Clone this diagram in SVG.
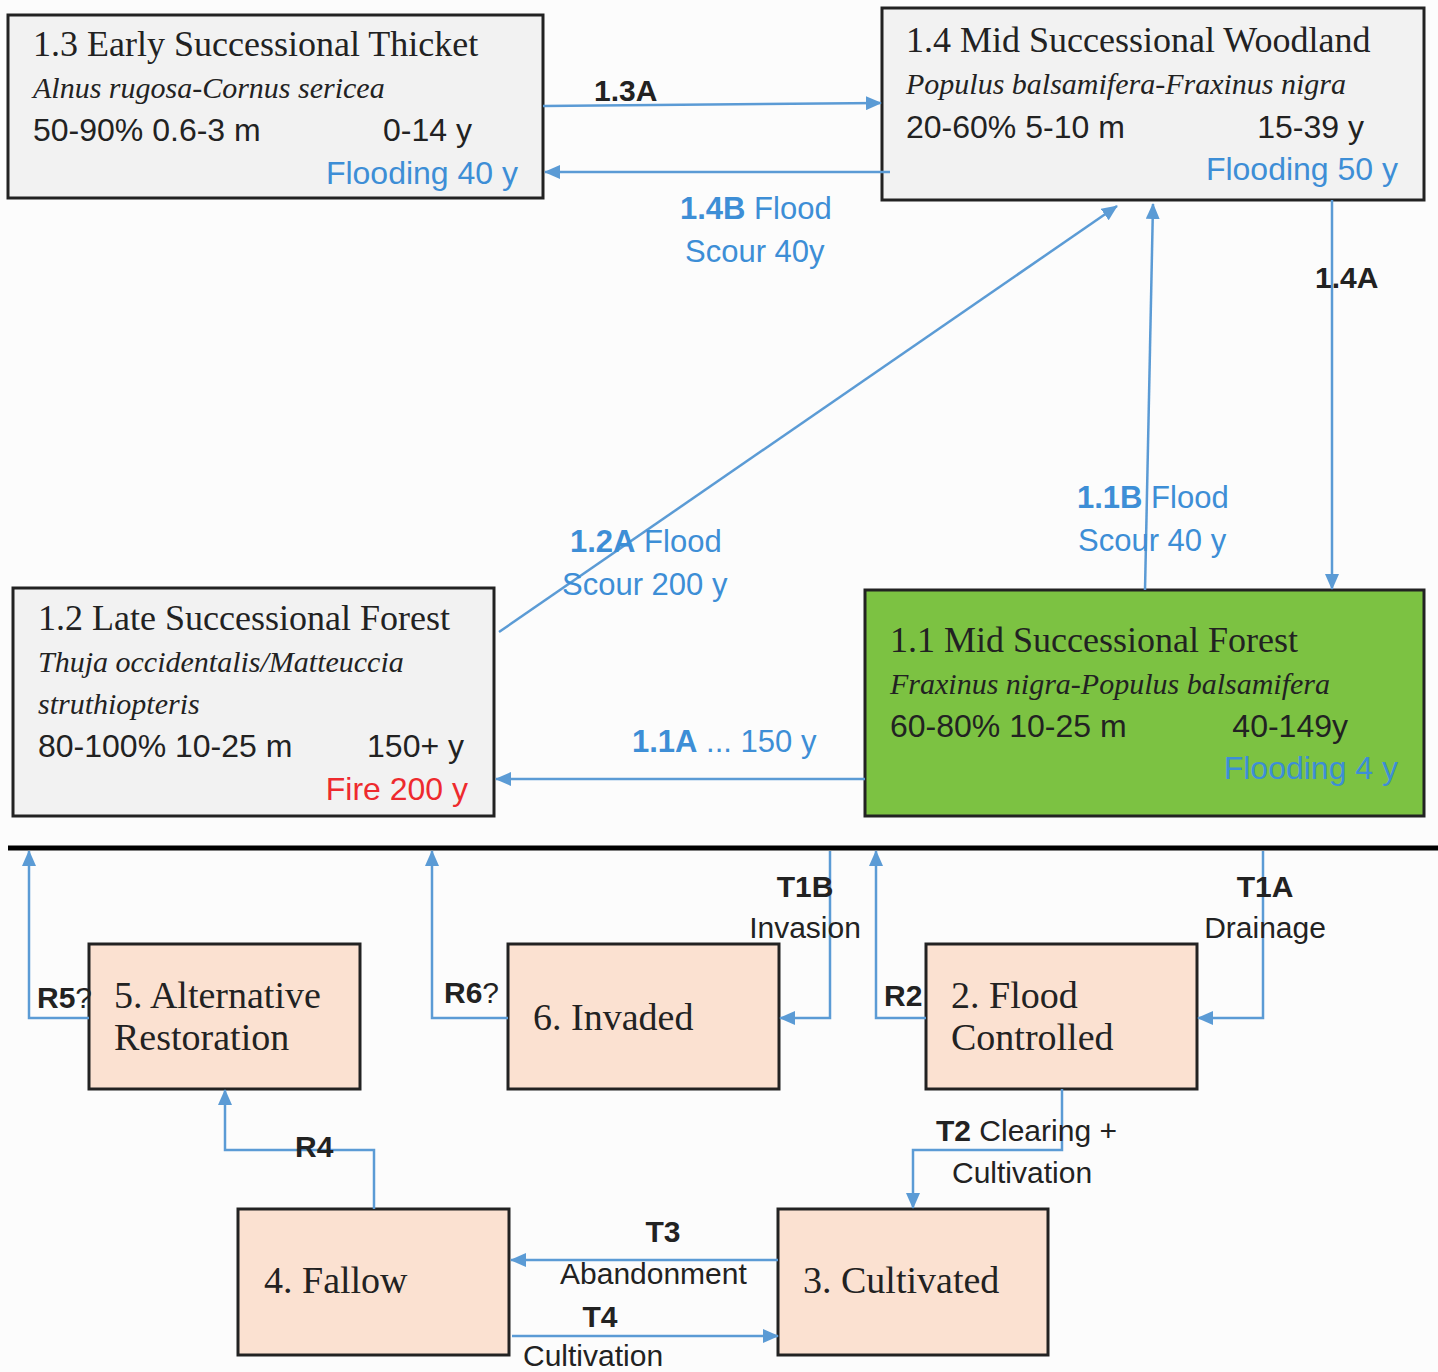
<svg xmlns="http://www.w3.org/2000/svg" width="1438" height="1372" viewBox="0 0 1438 1372">
<defs>
<marker id="ah" viewBox="0 0 16 14" refX="15" refY="7" markerWidth="16" markerHeight="14" markerUnits="userSpaceOnUse" orient="auto"><path d="M0,0 L16,7 L0,14 z" fill="#5b9bd5"/></marker>
<style>
.box{stroke:#222;stroke-width:3}
.grey{fill:#f2f2f2}
.green{fill:#7cc242}
.peach{fill:#fbe1d1}
.ttl{font-family:"Liberation Serif",serif;font-size:36px;fill:#222}
.sp{font-family:"Liberation Serif",serif;font-style:italic;font-size:30px;fill:#222}
.num{font-family:"Liberation Sans",sans-serif;font-size:32px;fill:#222}
.blue{font-family:"Liberation Sans",sans-serif;font-size:32px;fill:#3d8ed6}
.red{font-family:"Liberation Sans",sans-serif;font-size:32px;fill:#ee2a2e}
.lbl{font-family:"Liberation Sans",sans-serif;font-size:30px;fill:#222}
.blbl{font-family:"Liberation Sans",sans-serif;font-size:31px;fill:#3d8ed6}
.b{font-weight:bold}
.st{font-family:"Liberation Serif",serif;font-size:38px;fill:#222}
.c{fill:none;stroke:#5b9bd5;stroke-width:2.5;marker-end:url(#ah)}
</style>
</defs>
<rect width="1438" height="1372" fill="#fcfcfc"/>

<g id="node-1-3">
<rect class="box grey" x="8" y="15" width="535" height="183"/>
<text class="ttl" x="33" y="56">1.3 Early Successional Thicket</text>
<text class="sp" x="33" y="98">Alnus rugosa-Cornus sericea</text>
<text class="num" x="33" y="141">50-90% 0.6-3 m</text>
<text class="num" x="472" y="141" text-anchor="end">0-14 y</text>
<text class="blue" x="518" y="184" text-anchor="end">Flooding 40 y</text>
</g>

<g id="node-1-4">
<rect class="box grey" x="882" y="8" width="542" height="192"/>
<text class="ttl" x="906" y="52">1.4 Mid Successional Woodland</text>
<text class="sp" x="906" y="94">Populus balsamifera-Fraxinus nigra</text>
<text class="num" x="906" y="138">20-60% 5-10 m</text>
<text class="num" x="1364" y="138" text-anchor="end">15-39 y</text>
<text class="blue" x="1398" y="180" text-anchor="end">Flooding 50 y</text>
</g>

<g id="node-1-2">
<rect class="box grey" x="13" y="588" width="481" height="228"/>
<text class="ttl" x="38" y="630">1.2 Late Successional Forest</text>
<text class="sp" x="38" y="672">Thuja occidentalis/Matteuccia</text>
<text class="sp" x="38" y="714">struthiopteris</text>
<text class="num" x="38" y="757">80-100% 10-25 m</text>
<text class="num" x="464" y="757" text-anchor="end">150+ y</text>
<text class="red" x="468" y="800" text-anchor="end">Fire 200 y</text>
</g>

<g id="node-1-1">
<rect class="box green" x="865" y="590" width="559" height="226"/>
<text class="ttl" x="890" y="652">1.1 Mid Successional Forest</text>
<text class="sp" x="890" y="694">Fraxinus nigra-Populus balsamifera</text>
<text class="num" x="890" y="737">60-80% 10-25 m</text>
<text class="num" x="1348" y="737" text-anchor="end">40-149y</text>
<text class="blue" x="1398" y="779" text-anchor="end">Flooding 4 y</text>
</g>

<line id="divider" x1="8" y1="848" x2="1438" y2="848" stroke="#000" stroke-width="5"/>

<g id="node-5">
<rect class="box peach" x="89" y="944" width="271" height="145"/>
<text class="st" x="114" y="1008">5. Alternative</text>
<text class="st" x="114" y="1050">Restoration</text>
</g>
<g id="node-6">
<rect class="box peach" x="508" y="944" width="271" height="145"/>
<text class="st" x="533" y="1030">6. Invaded</text>
</g>
<g id="node-2">
<rect class="box peach" x="926" y="944" width="271" height="145"/>
<text class="st" x="951" y="1008">2. Flood</text>
<text class="st" x="951" y="1050">Controlled</text>
</g>
<g id="node-4">
<rect class="box peach" x="238" y="1209" width="271" height="146"/>
<text class="st" x="264" y="1293">4. Fallow</text>
</g>
<g id="node-3">
<rect class="box peach" x="778" y="1209" width="270" height="146"/>
<text class="st" x="803" y="1293">3. Cultivated</text>
</g>

<g id="connectors">
<path class="c" d="M543,106 L881,103"/>
<path class="c" d="M890,172 L545,172"/>
<path class="c" d="M499,632 L1117,206"/>
<path class="c" d="M1145,590 L1153,204"/>
<path class="c" d="M1332,200 L1332,589"/>
<path class="c" d="M865,779 L496,779"/>
<path class="c" d="M89,1018 L29,1018 L29,851"/>
<path class="c" d="M508,1018 L432,1018 L432,851"/>
<path class="c" d="M830,851 L830,1018 L780,1018"/>
<path class="c" d="M926,1018 L876,1018 L876,851"/>
<path class="c" d="M1263,851 L1263,1018 L1198,1018"/>
<path class="c" d="M1062,1089 L1062,1150 L913,1150 L913,1208"/>
<path class="c" d="M374,1209 L374,1150 L225,1150 L225,1090"/>
<path class="c" d="M778,1260 L511,1260"/>
<path class="c" d="M512,1336 L778,1336"/>

<text class="lbl b" x="594" y="101">1.3A</text>
<text class="blbl" x="680" y="219"><tspan class="b">1.4B</tspan> Flood</text>
<text class="blbl" x="685" y="262">Scour 40y</text>
<text class="lbl b" x="1315" y="288">1.4A</text>
<text class="blbl" x="1077" y="508"><tspan class="b">1.1B</tspan> Flood</text>
<text class="blbl" x="1078" y="551">Scour 40 y</text>
<text class="blbl" x="570" y="552"><tspan class="b">1.2A</tspan> Flood</text>
<text class="blbl" x="562" y="595">Scour 200 y</text>
<text class="blbl" x="632" y="752"><tspan class="b">1.1A</tspan> ... 150 y</text>

<text class="lbl b" x="805" y="897" text-anchor="middle">T1B</text>
<text class="lbl" x="805" y="938" text-anchor="middle">Invasion</text>
<text class="lbl b" x="1265" y="897" text-anchor="middle">T1A</text>
<text class="lbl" x="1265" y="938" text-anchor="middle">Drainage</text>
<text class="lbl" x="37" y="1008"><tspan class="b">R5</tspan>?</text>
<text class="lbl" x="444" y="1003"><tspan class="b">R6</tspan>?</text>
<text class="lbl b" x="884" y="1006">R2</text>
<text class="lbl" x="936" y="1141"><tspan class="b">T2</tspan> Clearing +</text>
<text class="lbl" x="952" y="1183">Cultivation</text>
<text class="lbl b" x="295" y="1157">R4</text>
<text class="lbl b" x="663" y="1242" text-anchor="middle">T3</text>
<text class="lbl" x="560" y="1284">Abandonment</text>
<text class="lbl b" x="600" y="1327" text-anchor="middle">T4</text>
<text class="lbl" x="523" y="1366">Cultivation</text>
</g>
</svg>
